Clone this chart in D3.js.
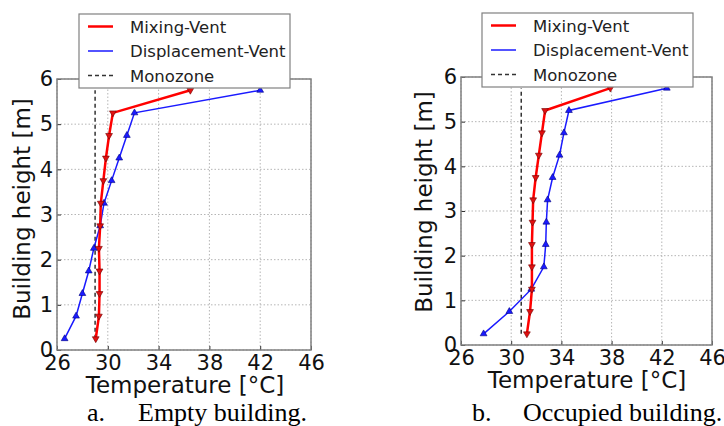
<!DOCTYPE html>
<html>
<head>
<meta charset="utf-8">
<script src="https://cdn.jsdelivr.net/npm/d3@7"></script>
<style>
body { margin:0; background:#fff; }
</style>
</head>
<body>
<script>
// heights of the sensor points [m]
var heights = [0.25,0.75,1.25,1.75,2.25,2.75,3.25,3.75,4.25,4.75,5.25,5.75];

// a. empty building
var mixingEmpty = [29.05,29.3,29.35,29.35,29.3,29.4,29.45,29.65,29.85,30.1,30.4,36.5];
var displEmpty = [26.6,27.5,28.0,28.5,28.9,29.4,29.7,30.3,30.9,31.5,32.1,42.0];
var monoEmpty = 29.0;

// b. occupied building
var mixingOcc = [31.25,31.5,31.65,31.65,31.65,31.7,31.75,31.95,32.2,32.45,32.7,37.9];
var displOcc = [27.8,29.85,31.6,32.6,32.75,32.8,32.9,33.3,33.85,34.2,34.6,42.4];
var monoOcc = 30.8;

var xTicks = [26,30,34,38,42,46];
var yTicks = [0,1,2,3,4,5,6];
var legendNames = ["Mixing-Vent","Displacement-Vent","Monozone"];

var sans = "DejaVu Sans, sans-serif";
var serif = "Liberation Serif, Times New Roman, serif";

var width = 724;
var height = 426;
var svg = d3.select("body").append("svg")
    .attr("width",width)
    .attr("height",height);

var drawPanel = function(p)
{
  var x = d3.scaleLinear().domain([26,46]).range([p.left,p.right]);
  var y = d3.scaleLinear().domain([0,6]).range([p.bottom,p.top]);
  var g = svg.append("g");

  // dotted grid
  g.selectAll(".gx").data(xTicks).enter().append("line")
    .attr("x1",function(d){return x(d);}).attr("x2",function(d){return x(d);})
    .attr("y1",p.top).attr("y2",p.bottom)
    .attr("stroke","#b5b5b5").attr("stroke-width",1).attr("stroke-dasharray","1.5,2");
  g.selectAll(".gy").data(yTicks).enter().append("line")
    .attr("y1",function(d){return y(d);}).attr("y2",function(d){return y(d);})
    .attr("x1",p.left).attr("x2",p.right)
    .attr("stroke","#b5b5b5").attr("stroke-width",1).attr("stroke-dasharray","1.5,2");

  // axes (frame drawn after)
  var xAxis = g.append("g").attr("transform","translate(0,"+p.bottom+")")
    .call(d3.axisBottom(x).tickValues(xTicks).tickFormat(d3.format("d")).tickSize(-4).tickPadding(5));
  var yAxis = g.append("g").attr("transform","translate("+p.left+",0)")
    .call(d3.axisLeft(y).tickValues(yTicks).tickFormat(d3.format("d")).tickSize(-4).tickPadding(4));
  [xAxis,yAxis].forEach(function(a){
    a.select(".domain").remove();
    a.selectAll("line").attr("stroke","#333");
    a.selectAll("text").attr("fill","#111")
      .style("font-family",sans).style("font-size","21px");
  });

  var line = d3.line()
    .x(function(d){return x(d[0]);})
    .y(function(d){return y(d[1]);});

  // monozone dashed
  g.append("path")
    .datum(heights.map(function(h){return [p.mono,h];}))
    .attr("d",line).attr("fill","none")
    .attr("stroke","#333").attr("stroke-width",1.5).attr("stroke-dasharray","4,3");

  // displacement (blue)
  var blueData = p.displ.map(function(t,i){return [t,heights[i]];});
  g.append("path").datum(blueData).attr("d",line).attr("fill","none")
    .attr("stroke","#1a1aff").attr("stroke-width",1.5);
  g.selectAll(".bm").data(blueData).enter().append("path")
    .attr("d",d3.symbol().type(d3.symbolTriangle).size(20))
    .attr("transform",function(d){return "translate("+x(d[0])+","+y(d[1])+")";})
    .attr("fill","#1a1aff").attr("stroke","#000080").attr("stroke-width",0.6);

  // mixing (red)
  var redData = p.mixing.map(function(t,i){return [t,heights[i]];});
  g.append("path").datum(redData).attr("d",line).attr("fill","none")
    .attr("stroke","#ff0000").attr("stroke-width",2.5);
  g.selectAll(".rm").data(redData).enter().append("path")
    .attr("d",d3.symbol().type(d3.symbolTriangle).size(20))
    .attr("transform",function(d){return "translate("+x(d[0])+","+y(d[1])+") rotate(180)";})
    .attr("fill","#e01010").attr("stroke","#700000").attr("stroke-width",0.6);

  // frame
  g.append("rect").attr("x",p.left).attr("y",p.top)
    .attr("width",p.right-p.left).attr("height",p.bottom-p.top)
    .attr("fill","none").attr("stroke","#808080").attr("stroke-width",1.5);

  // axis labels
  g.append("text").attr("x",p.xlabX).attr("y",p.bottom+43)
    .attr("text-anchor","middle").attr("fill","#111")
    .style("font-family",sans).style("font-size","23px")
    .text("Temperature [°C]");
  g.append("text")
    .attr("transform","translate("+p.ylabX+","+p.ylabY+") rotate(-90)")
    .attr("text-anchor","middle").attr("fill","#111")
    .style("font-family",sans).style("font-size","23px")
    .text("Building height [m]");

  // legend
  var lg = g.append("g").attr("transform","translate("+p.legX+","+p.legY+")");
  lg.append("rect").attr("width",211).attr("height",74)
    .attr("fill","#fff").attr("stroke","#808080").attr("stroke-width",1.2);
  var styles = [
    {c:"#ff0000",w:2.5,dash:null},
    {c:"#1a1aff",w:1.5,dash:null},
    {c:"#333",w:1.5,dash:"4,3"}
  ];
  legendNames.forEach(function(n,i){
    var ly = 12.5+i*24.5;
    lg.append("line").attr("x1",9).attr("x2",34).attr("y1",ly).attr("y2",ly)
      .attr("stroke",styles[i].c).attr("stroke-width",styles[i].w)
      .attr("stroke-dasharray",styles[i].dash);
    lg.append("text").attr("x",51).attr("y",ly+6).attr("fill","#222")
      .style("font-family",sans).style("font-size","16.5px").text(n);
  });

  // caption
  var cap = svg.append("text").attr("y",421).attr("fill","#000")
    .style("font-family",serif).style("font-size","26px");
  cap.append("tspan").attr("x",p.capX).text(p.capLetter);
  cap.append("tspan").attr("x",p.capX+51).text(p.caption);
}

drawPanel({left:57,right:311,top:79,bottom:350,mixing:mixingEmpty,displ:displEmpty,
  mono:monoEmpty,xlabX:185,ylabX:30,ylabY:209,legX:79,legY:14,capX:87,capLetter:"a.",caption:"Empty building."});
drawPanel({left:461,right:712,top:77,bottom:345,mixing:mixingOcc,displ:displOcc,
  mono:monoOcc,xlabX:587,ylabX:432,ylabY:202,legX:482,legY:13,capX:472,capLetter:"b.",caption:"Occupied building."});
</script>
</body>
</html>
